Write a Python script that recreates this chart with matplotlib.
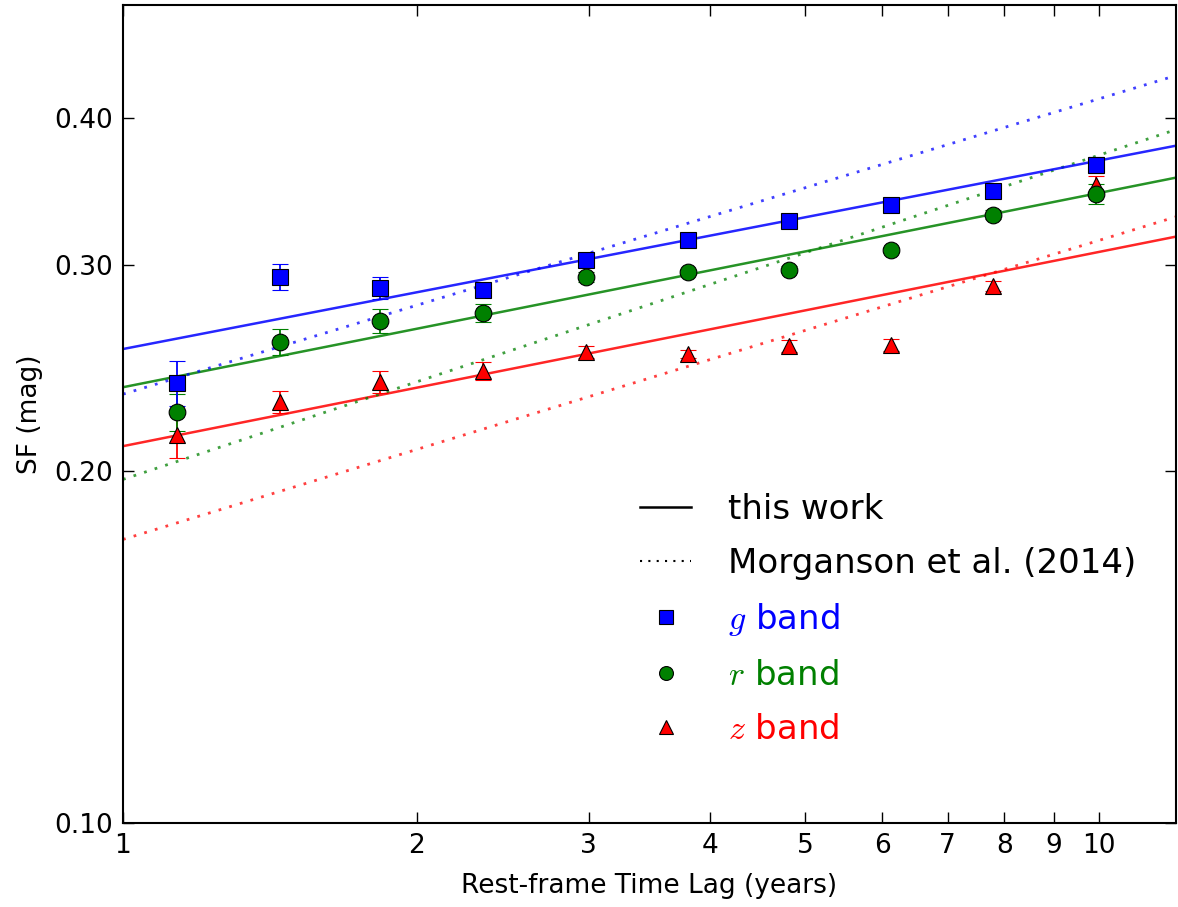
import numpy as np
import matplotlib
matplotlib.use("Agg")
import matplotlib.pyplot as plt
from matplotlib.lines import Line2D
from matplotlib.ticker import FixedLocator, FixedFormatter, NullLocator

plt.rcParams['font.family'] = ['DejaVu Sans']
plt.rcParams['mathtext.fontset'] = 'cm'

# rest-frame time lag bins (years)
lag = [1.136, 1.449, 1.835, 2.34, 2.985, 3.79, 4.82, 6.13, 7.80, 9.93]

# structure function per band (mag)
sf_g = [0.2377, 0.2928, 0.2866, 0.2855, 0.3029, 0.3150, 0.3270, 0.3375, 0.3469, 0.3652]
sf_r = [0.2244, 0.2576, 0.2685, 0.2728, 0.2928, 0.2957, 0.2969, 0.3088, 0.3309, 0.3449]
sf_z = [0.2145, 0.2289, 0.2381, 0.2433, 0.2526, 0.2516, 0.2556, 0.2561, 0.2877, 0.3510]

err_g = [0.0105, 0.0073, 0.0060, 0.0025, 0.0030, 0.0020, 0.0020, 0.0020, 0.0030, 0.0056]
err_r = [0.0080, 0.0066, 0.0064, 0.0050, 0.0030, 0.0020, 0.0020, 0.0020, 0.0030, 0.0070]
err_z = [0.0096, 0.0050, 0.0052, 0.0043, 0.0030, 0.0020, 0.0030, 0.0030, 0.0030, 0.0060]

# fitted power laws, value at lag = 1 and lag = 12
fit_lag = [1, 12]
fit_g = [0.2541, 0.3791]
fit_r = [0.2357, 0.3560]
fit_z = [0.2099, 0.3170]
morg_g = [0.2325, 0.4352]
morg_r = [0.1966, 0.3913]
morg_z = [0.1747, 0.3296]

xticks = [1, 2, 3, 4, 5, 6, 7, 8, 9, 10]
yticks = [0.10, 0.20, 0.30, 0.40]

fig = plt.figure(figsize=(11.78, 9.07), dpi=100)
ax = fig.add_axes([0.1044, 0.0926, 0.8939, 0.9019])

green = (0, 0.5, 0)
dots = (0, (1, 3))
bands = [
    (sf_z, err_z, fit_z, morg_z, 'red', '^'),
    (sf_r, err_r, fit_r, morg_r, green, 'o'),
    (sf_g, err_g, fit_g, morg_g, 'blue', 's'),
]
for sf, err, fit, morg, c, m in bands:
    ax.plot(fit_lag, fit, '-', color=c, lw=1.8, alpha=0.85)
    ax.plot(fit_lag, morg, ls=dots, color=c, lw=2.0, alpha=0.75)
for sf, err, fit, morg, c, m in bands:
    ax.errorbar(lag, sf, yerr=err, fmt=m, color=c, ecolor=c, mec='k', mew=0.8,
                ms=12, capsize=6, elinewidth=1.3, capthick=1.3)

ax.set_xscale('log')
ax.set_yscale('log')
ax.set_xlim(1, 12)
ax.set_ylim(0.1, 0.5)
ax.xaxis.set_major_locator(FixedLocator(xticks))
ax.xaxis.set_major_formatter(FixedFormatter([str(t) for t in xticks]))
ax.xaxis.set_minor_locator(NullLocator())
ax.yaxis.set_major_locator(FixedLocator(yticks))
ax.yaxis.set_major_formatter(FixedFormatter(['%.2f' % t for t in yticks]))
ax.yaxis.set_minor_locator(NullLocator())
ax.tick_params(direction='in', length=8, width=1, top=True, right=True, labelsize=19, pad=7)
for s in ax.spines.values():
    s.set_linewidth(1.5)

ax.set_xlabel('Rest-frame Time Lag (years)', fontsize=19, labelpad=10)
ax.set_ylabel('SF (mag)', fontsize=19, labelpad=8)

handles = [
    Line2D([], [], color='k', ls='-', lw=1.8),
    Line2D([], [], color='k', ls=dots, lw=1.5),
    Line2D([], [], color='blue', marker='s', ls='none', mec='k', mew=0.8, ms=10),
    Line2D([], [], color=green, marker='o', ls='none', mec='k', mew=0.8, ms=10),
    Line2D([], [], color='red', marker='^', ls='none', mec='k', mew=0.8, ms=10),
]
labels = ['this work', 'Morganson et al. (2014)', '$g$ band', '$r$ band', '$z$ band']
leg = ax.legend(handles, labels, loc='upper left', bbox_to_anchor=(0.491, 0.404),
                bbox_transform=ax.transAxes, frameon=False, fontsize=24.5,
                handlelength=1.5, handletextpad=1.1, borderpad=0, borderaxespad=0,
                labelspacing=0.62, numpoints=1)
for t, c in zip(leg.get_texts(), ['k', 'k', 'blue', green, 'red']):
    t.set_color(c)

fig.savefig('out.png', dpi=100)
